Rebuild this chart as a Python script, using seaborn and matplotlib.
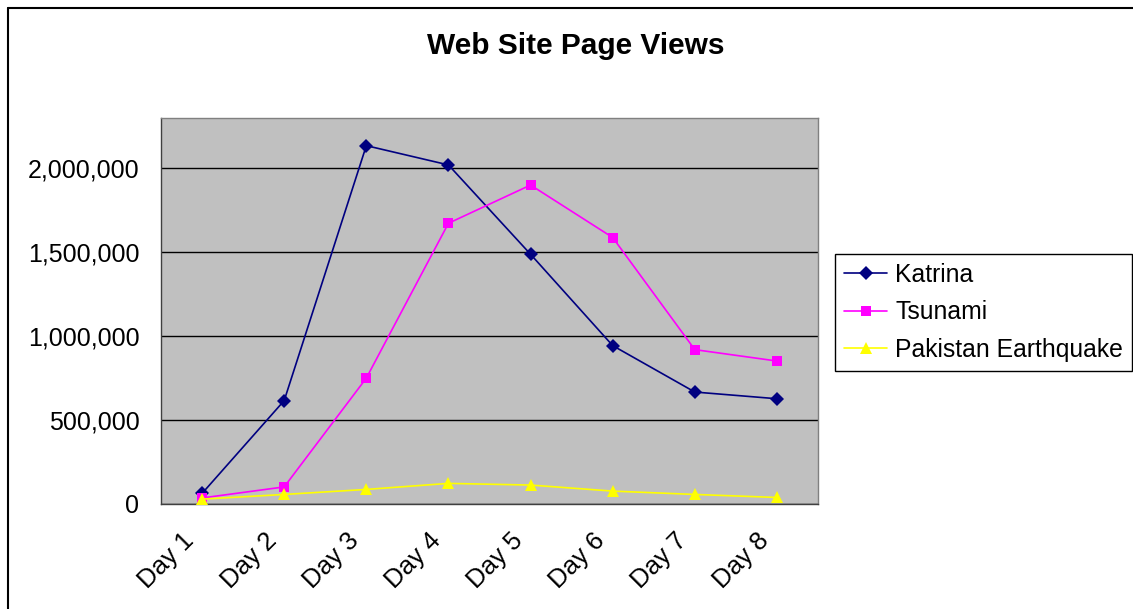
import pandas as pd
import matplotlib.pyplot as plt
import matplotlib.transforms as mtransforms
import seaborn as sns
from matplotlib.lines import Line2D
from matplotlib.ticker import FuncFormatter, FixedLocator

# values
days = ["Day 1", "Day 2", "Day 3", "Day 4", "Day 5", "Day 6", "Day 7", "Day 8"]
katrina = [60000, 614000, 2135000, 2020000, 1487000, 942000, 665000, 625000]
tsunami = [33000, 99000, 748000, 1672000, 1900000, 1587000, 918000, 850000]
pakistan = [26000, 54000, 84000, 120000, 110000, 74000, 54000, 36000]
series_names = ["Katrina", "Tsunami", "Pakistan Earthquake"]

df = pd.DataFrame({
    "x": list(range(len(days))) * 3,
    "views": katrina + tsunami + pakistan,
    "event": [n for n in series_names for _ in days],
})

sns.set_theme(style="white")
plt.rcParams["font.family"] = ["Liberation Sans", "DejaVu Sans"]
plt.rcParams["text.color"] = "black"
plt.rcParams["xtick.color"] = "black"
plt.rcParams["ytick.color"] = "black"

W, H = 1133, 609
fig = plt.figure(figsize=(W / 100, H / 100), dpi=100)
ax = fig.add_axes([161 / W, 1 - 503.5 / H, (818 - 161) / W, (503.5 - 118) / H])
ax.set_facecolor("#C0C0C0")

palette = {"Katrina": "#000080", "Tsunami": "#FF00FF", "Pakistan Earthquake": "#FFFF00"}
markers = {"Katrina": "D", "Tsunami": "s", "Pakistan Earthquake": "^"}
sizes = {"Katrina": 7, "Tsunami": 7, "Pakistan Earthquake": 8}

for name in series_names:
    sub = df[df["event"] == name]
    sns.lineplot(data=sub, x="x", y="views", ax=ax, color=palette[name],
                 marker=markers[name], markersize=sizes[name], markeredgewidth=0,
                 linewidth=1.2, label=name, zorder=3)

ax.set_xlim(-0.5, len(days) - 0.5)
ax.set_ylim(0, 2300000)
ax.set_xlabel("")
ax.set_ylabel("")

ax.set_yticks([0, 500000, 1000000, 1500000, 2000000])
ax.yaxis.set_major_formatter(FuncFormatter(lambda v, p: f"{int(v):,}"))
ax.yaxis.grid(True, color="black", linewidth=1)
ax.set_axisbelow(True)

ax.set_xticks(range(len(days)))
ax.set_xticklabels(days, rotation=45, ha="right", va="top", rotation_mode="anchor")
ax.xaxis.set_minor_locator(FixedLocator([i - 0.5 for i in range(len(days) + 1)]))
ax.tick_params(axis="x", which="major", length=0, pad=16, labelsize=18.5)
ax.tick_params(axis="x", which="minor", length=7, width=1, color="black", direction="out")
ax.tick_params(axis="y", length=7, width=1, color="black", direction="out", pad=8.5, labelsize=18)

# Excel puts the rotated label ends a bit left of the category centre
shift = mtransforms.ScaledTranslation(-0.20, -0.03, fig.dpi_scale_trans)
for lbl in ax.get_xticklabels():
    lbl.set_transform(lbl.get_transform() + shift)

for s in ax.spines.values():
    s.set_color("#808080")
    s.set_linewidth(1)
ax.spines["bottom"].set_color("#404040")
ax.spines["left"].set_color("#404040")

ax.legend(loc="upper left", bbox_to_anchor=(835 / W, 1 - 254 / H),
          bbox_transform=fig.transFigure, borderaxespad=0, fontsize=17.8,
          frameon=True, fancybox=False, edgecolor="black", framealpha=1,
          handlelength=1.75, handletextpad=0.32, labelspacing=0.55, borderpad=0.36)

fig.text(576 / W, 1 - 46 / H, "Web Site Page Views", ha="center", va="center",
         fontsize=21.5, fontweight="bold")

# outer chart border (only top and left visible in the crop)
fig.add_artist(Line2D([7.5 / W, 1], [1 - 7.5 / H, 1 - 7.5 / H], transform=fig.transFigure,
                      color="black", linewidth=1.5))
fig.add_artist(Line2D([7.5 / W, 7.5 / W], [0, 1 - 7.5 / H], transform=fig.transFigure,
                      color="black", linewidth=1.5))

fig.savefig("out.png", dpi=100)
